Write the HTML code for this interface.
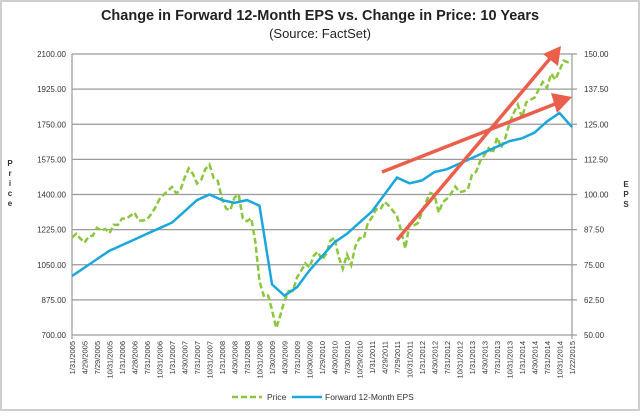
<!DOCTYPE html>
<html><head><meta charset="utf-8"><style>
body{margin:0;background:#fff;font-family:"Liberation Sans",sans-serif}
svg text{font-family:"Liberation Sans",sans-serif}
</style></head><body>
<svg width="640" height="411" viewBox="0 0 640 411">
<rect x="1" y="1" width="638" height="409" fill="#fff" stroke="#cfcfcf" stroke-width="2"/>
<text x="320" y="20" text-anchor="middle" font-size="14.5" font-weight="600" fill="#222">Change in Forward 12-Month EPS vs. Change in Price: 10 Years</text>
<text x="320" y="38" text-anchor="middle" font-size="13" fill="#222">(Source: FactSet)</text>
<g id="grid"></g>
<g id="ylab"></g>
<g id="y2lab"></g>
<g id="xlab"></g>
<text x="10" y="166" font-size="8" font-weight="bold" fill="#333" text-anchor="middle"><tspan x="10" dy="0">P</tspan><tspan x="10" dy="10">r</tspan><tspan x="10" dy="10">i</tspan><tspan x="10" dy="10">c</tspan><tspan x="10" dy="10">e</tspan></text>
<text x="626" y="187" font-size="8" font-weight="bold" fill="#333" text-anchor="middle"><tspan x="626" dy="0">E</tspan><tspan x="626" dy="10">P</tspan><tspan x="626" dy="10">S</tspan></text>
<path id="price" fill="none" stroke="#8cc63e" stroke-width="2.5" stroke-dasharray="6,3"/>
<path id="eps" fill="none" stroke="#1ba6dc" stroke-width="2.5"/>
<g fill="#ea5f4b" stroke="#ea5f4b">
<line x1="382" y1="172" x2="560" y2="102" stroke-width="3.5"/>
<polygon points="572,97 551,93 557,113" stroke="none"/>
<line x1="397" y1="240" x2="553" y2="55" stroke-width="3.5"/>
<polygon points="561,46 543,54 558,66" stroke="none"/>
</g>
<g>
<line x1="232" y1="397" x2="262" y2="397" stroke="#8cc63e" stroke-width="2.5" stroke-dasharray="6,3"/>
<text x="267" y="400" font-size="8.5" fill="#333">Price</text>
<line x1="292" y1="397" x2="322" y2="397" stroke="#1ba6dc" stroke-width="2.5"/>
<text x="325" y="400" font-size="8.5" fill="#333">Forward 12-Month EPS</text>
</g>
</svg>
<script>
const priceTicks=[700,875,1050,1225,1400,1575,1750,1925,2100];
const epsTicks=[50,62.5,75,87.5,100,112.5,125,137.5,150];
const dateLabels=["1/31/2005","4/29/2005","7/29/2005","10/31/2005","1/31/2006","4/28/2006","7/31/2006","10/31/2006","1/31/2007","4/30/2007","7/31/2007","10/31/2007","1/31/2008","4/30/2008","7/31/2008","10/31/2008","1/30/2009","4/30/2009","7/31/2009","10/30/2009","1/29/2010","4/30/2010","7/30/2010","10/29/2010","1/31/2011","4/29/2011","7/29/2011","10/31/2011","1/31/2012","4/30/2012","7/31/2012","10/31/2012","1/31/2013","4/30/2013","7/31/2013","10/31/2013","1/31/2014","4/30/2014","7/31/2014","10/31/2014","1/22/2015"];
// monthly price values
const priceValues=[1185,1204,1181,1160,1191,1195,1234,1220,1228,1207,1249,1248,
1280,1280,1294,1310,1270,1270,1276,1303,1335,1377,1400,1418,
1438,1406,1420,1482,1530,1503,1455,1473,1526,1549,1481,1468,
1378,1330,1322,1385,1400,1280,1267,1282,1166,968,896,903,
825,735,797,872,919,919,987,1020,1057,1036,1095,1115,
1073,1104,1169,1186,1089,1030,1101,1049,1141,1183,1180,1257,
1286,1327,1325,1363,1345,1320,1292,1218,1131,1253,1246,1257,
1312,1365,1408,1397,1310,1362,1379,1406,1440,1412,1416,1426,
1498,1514,1569,1597,1630,1606,1685,1632,1681,1756,1806,1848,
1782,1859,1872,1883,1923,1960,1931,2003,1972,2018,2067,2059,2062];
// quarterly EPS values
const epsValues=[71,74,77,80,82,84,86,88,90,94,98,100,98,97,98,96,68,64,67,73,78,83,86,90,94,100,106,104,105,108,109,111,113,115,117,119,120,122,126,129,124];
const X0=72,X1=572,Y0=335,Y1=54;
const nQ=dateLabels.length-1;
function xq(q){return X0+(X1-X0)*q/nQ;}
function yP(v){return Y0-(v-700)/(2100-700)*(Y0-Y1);}
function yE(v){return Y0-(v-50)/(150-50)*(Y0-Y1);}
const NS="http://www.w3.org/2000/svg";
const grid=document.getElementById('grid'),yl=document.getElementById('ylab'),y2=document.getElementById('y2lab'),xl=document.getElementById('xlab');
priceTicks.forEach((t,i)=>{
 const y=yP(t);
 const l=document.createElementNS(NS,'line');
 l.setAttribute('x1',X0);l.setAttribute('x2',X1+5);l.setAttribute('y1',y);l.setAttribute('y2',y);
 l.setAttribute('stroke','#9a9a9a');l.setAttribute('stroke-width','1.2');
 
 
 grid.appendChild(l);
 const tx=document.createElementNS(NS,'text');
 tx.setAttribute('x',X0-6);tx.setAttribute('y',y+3);tx.setAttribute('text-anchor','end');tx.setAttribute('font-size','8');tx.setAttribute('fill','#333');
 tx.textContent=t.toFixed(2);
 
 
 yl.appendChild(tx);
 const t2=document.createElementNS(NS,'text');
 t2.setAttribute('x',X1+12);t2.setAttribute('y',yE(epsTicks[i])+3);t2.setAttribute('font-size','8');t2.setAttribute('fill','#333');
 t2.textContent=epsTicks[i].toFixed(2);
 
 
 y2.appendChild(t2);
});
[[X0,Y1,X0,Y0+4],[X1,Y1,X1,Y0+4]].forEach(a=>{
 const l=document.createElementNS(NS,'line');
 l.setAttribute('x1',a[0]);l.setAttribute('y1',a[1]);l.setAttribute('x2',a[2]);l.setAttribute('y2',a[3]);
 l.setAttribute('stroke','#9a9a9a');l.setAttribute('stroke-width','1.2');
 
 
 grid.appendChild(l);
});
dateLabels.forEach((d,i)=>{
 const x=xq(i);
 const tx=document.createElementNS(NS,'text');
 tx.setAttribute('transform','translate('+(x+3)+','+(Y0+6)+') rotate(-90)');
 tx.setAttribute('text-anchor','end');tx.setAttribute('font-size','7.5');tx.setAttribute('fill','#333');
 tx.textContent=d;
 
 
 xl.appendChild(tx);
});
document.getElementById('price').setAttribute('d',priceValues.map((v,i)=>(i?'L':'M')+xq(i/3).toFixed(1)+','+yP(v).toFixed(1)).join(' '));
document.getElementById('eps').setAttribute('d',epsValues.map((v,i)=>(i?'L':'M')+xq(i).toFixed(1)+','+yE(v).toFixed(1)).join(' '));
</script>
</body></html>
